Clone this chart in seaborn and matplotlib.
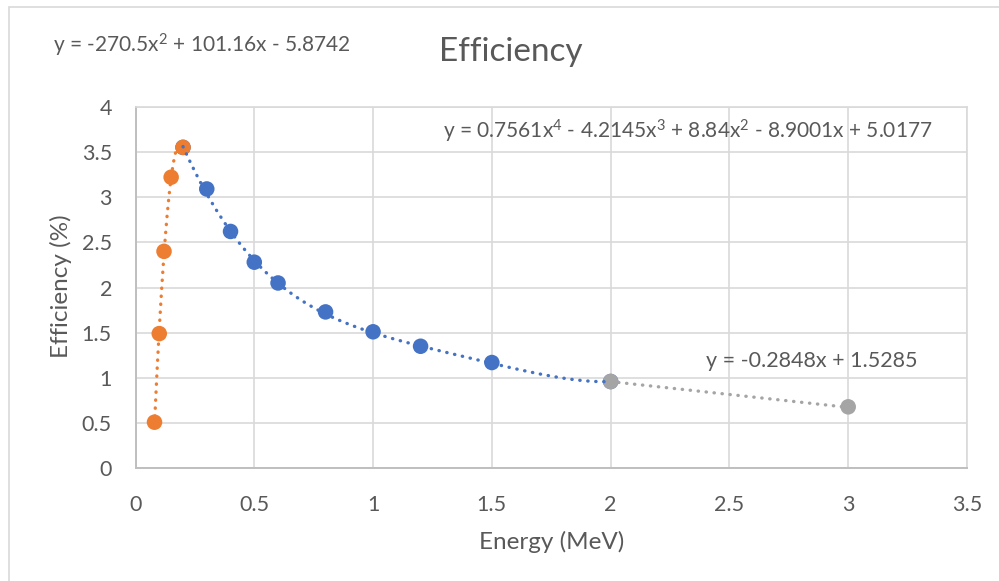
import numpy as np
import pandas as pd
import matplotlib
matplotlib.use("Agg")
import matplotlib.pyplot as plt
import seaborn as sns
from matplotlib.patches import Rectangle

# ---- data ----
orange_x = [0.08, 0.10, 0.12, 0.15, 0.20]
orange_y = [0.51, 1.49, 2.40, 3.22, 3.55]

blue_x = [0.2, 0.3, 0.4, 0.5, 0.6, 0.8, 1.0, 1.2, 1.5, 2.0]
blue_y = [3.55, 3.09, 2.62, 2.28, 2.05, 1.73, 1.51, 1.35, 1.17, 0.96]

gray_x = [2.0, 3.0]
gray_y = [0.96, 0.68]

# trendline coefficients as printed on the chart (highest power first)
orange_coef = [-270.5, 101.16, -5.8742]
blue_coef = [0.7561, -4.2145, 8.84, -8.9001, 5.0177]
gray_coef = [-0.2848, 1.5285]

orange_eq = "y = -270.5x$^{2}$ + 101.16x - 5.8742"
blue_eq = "y = 0.7561x$^{4}$ - 4.2145x$^{3}$ + 8.84x$^{2}$ - 8.9001x + 5.0177"
gray_eq = "y = -0.2848x + 1.5285"

title = "Efficiency"
xlabel = "Energy (MeV)"
ylabel = "Efficiency (%)"
xticks = [0, 0.5, 1, 1.5, 2, 2.5, 3, 3.5]
yticks = [0, 0.5, 1, 1.5, 2, 2.5, 3, 3.5, 4]

C_ORANGE = "#ED7D31"
C_BLUE = "#4472C4"
C_GRAY = "#A5A5A5"
C_TEXT = "#595959"
C_GRID = "#D9D9D9"
C_AXIS = "#BFBFBF"

sns.set_theme(style="white")
plt.rcParams["font.family"] = ["Lato", "DejaVu Sans"]
plt.rcParams["mathtext.fontset"] = "custom"
plt.rcParams["mathtext.rm"] = "Lato"
plt.rcParams["mathtext.default"] = "regular"

W, H = 999, 581
fig = plt.figure(figsize=(W / 100, H / 100), dpi=100)
fig.patch.set_facecolor("white")

left, right, top, bottom = 135.5, 967.0, 106.7, 468.3
ax = fig.add_axes([left / W, 1 - bottom / H, (right - left) / W, (bottom - top) / H])

# border of chart area
fig.add_artist(Rectangle((8.5 / W, -0.1), 1.2, 1.1 - 7 / H, transform=fig.transFigure,
                         fill=False, edgecolor=C_GRID, lw=1.2, zorder=0))

df_o = pd.DataFrame({"x": orange_x, "y": orange_y})
df_b = pd.DataFrame({"x": blue_x, "y": blue_y})
df_g = pd.DataFrame({"x": gray_x, "y": gray_y})

ms = 125
sns.scatterplot(data=df_b, x="x", y="y", ax=ax, color=C_BLUE, s=ms, edgecolor="none", zorder=3)
sns.scatterplot(data=df_o, x="x", y="y", ax=ax, color=C_ORANGE, s=ms, edgecolor="none", zorder=4)
sns.scatterplot(data=df_g, x="x", y="y", ax=ax, color=C_GRAY, s=ms, edgecolor="none", zorder=5)

dot = (0, (0.1, 2.3))
for xs, coef, col in [(orange_x, orange_coef, C_ORANGE), (blue_x, blue_coef, C_BLUE), (gray_x, gray_coef, C_GRAY)]:
    tx = np.linspace(min(xs), max(xs), 300)
    ty = np.polyval(coef, tx)
    sns.lineplot(x=tx, y=ty, ax=ax, color=col, lw=2.4, linestyle=dot, dash_capstyle="round",
                 sort=False, estimator=None, zorder=6)

ax.set_xlim(0, 3.5)
ax.set_ylim(0, 4)
ax.set_xticks(xticks)
ax.set_yticks(yticks)
ax.set_xticklabels([f"{t:g}" for t in xticks])
ax.set_yticklabels([f"{t:g}" for t in yticks])
ax.grid(True, color=C_GRID, lw=1.2)
ax.set_axisbelow(True)
ax.tick_params(axis="both", length=0, labelsize=15.5, labelcolor=C_TEXT)
ax.tick_params(axis="x", pad=19)
ax.tick_params(axis="y", pad=17)
for s in ["left", "bottom"]:
    ax.spines[s].set_color(C_AXIS)
    ax.spines[s].set_linewidth(1.4)
for s in ["top", "right"]:
    ax.spines[s].set_color(C_GRID)
    ax.spines[s].set_linewidth(1.2)
ax.set_xlabel("")
ax.set_ylabel("")

fig.text(552 / W, 1 - 542 / H, xlabel, ha="center", va="center", fontsize=17.5, color=C_TEXT)
fig.text(61 / W, 1 - 286 / H, ylabel, ha="center", va="center", rotation=90, fontsize=17.5, color=C_TEXT)
fig.text(511 / W, 1 - 52 / H, title, ha="center", va="center", fontsize=24, color=C_TEXT)

fig.text(53 / W, 1 - 45 / H, orange_eq, ha="left", va="center", fontsize=15, color=C_TEXT)
fig.text(443 / W, 1 - 131 / H, blue_eq, ha="left", va="center", fontsize=15, color=C_TEXT)
fig.text(706 / W, 1 - 361 / H, gray_eq, ha="left", va="center", fontsize=15.5, color=C_TEXT)

fig.savefig("out.png", dpi=100, facecolor="white")
